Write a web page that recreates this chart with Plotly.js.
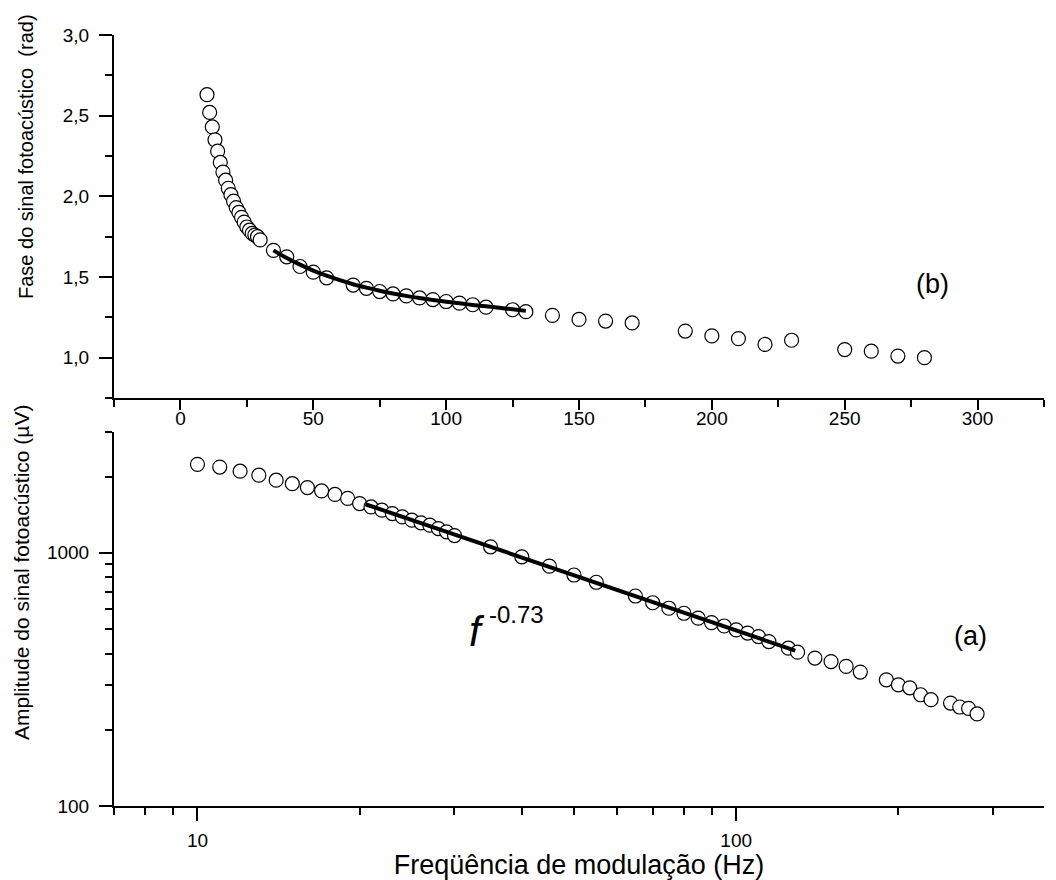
<!DOCTYPE html>
<html>
<head>
<meta charset="utf-8">
<script src="https://cdn.plot.ly/plotly-3.0.1.min.js"></script>
<style>html,body{margin:0;padding:0;background:#fff;}#chart{width:1056px;height:880px;}</style>
</head>
<body>
<div id="chart"></div>
<script>
// Modulation frequency (Hz), shared by both panels
const freq = [10,11,12,13,14,15,16,17,18,19,20,21,22,23,24,25,26,27,28,29,30,
  35,40,45,50,55,65,70,75,80,85,90,95,100,105,110,115,125,130,
  140,150,160,170,190,200,210,220,230,250,260,270,280];
// (b) phase of the photoacoustic signal (rad)
const phase = [2.63,2.52,2.43,2.35,2.28,2.21,2.15,2.10,2.05,2.01,1.97,1.93,1.90,1.87,1.84,1.81,1.79,1.77,1.76,1.75,1.73,
  1.665,1.625,1.565,1.53,1.495,1.45,1.43,1.41,1.395,1.383,1.37,1.36,1.348,1.338,1.328,1.313,1.297,1.285,
  1.262,1.237,1.227,1.215,1.165,1.135,1.118,1.082,1.108,1.05,1.04,1.01,1.00];
// (a) amplitude of the photoacoustic signal (µV)
const amplitude = [2235,2180,2100,2025,1935,1875,1810,1755,1700,1640,1565,1517,1473,1429,1386,1345,1313,1285,1247,1210,1170,
  1056,964,886,817,765,675,635,604,577,552,530,514,496,482,467,446,420,405,
  384,372,356,338,315,301,293,275,263,255,246,243,231];
// fitted curve on the phase panel
const phaseFitX = [35,40,45,50,55,60,65,70,75,80,85,90,95,100,105,110,115,120,125,130];
const phaseFitY = [1.665,1.618,1.577,1.540,1.508,1.480,1.455,1.434,1.415,1.398,1.383,1.370,1.358,1.347,1.337,1.327,1.318,1.309,1.300,1.290];
// power-law fit f^-0.73 on the amplitude panel
const ampFitX = [20.5,128.7];
const ampFitY = [1555,411];

// tick labels
const phaseTickVals = [1.0,1.5,2.0,2.5,3.0];
const phaseTickText = ['1,0','1,5','2,0','2,5','3,0'];
const freqLinTickVals = [0,50,100,150,200,250,300];
const ampTickVals = [100,1000];
const ampTickText = ['100','1000'];
const freqLogTickVals = [10,100];
const freqLogTickText = ['10','100'];

const FONT = 'Liberation Sans, Arial, sans-serif';
const marker = {symbol:'circle', size:14, color:'#ffffff', line:{color:'#000000', width:1.2}};

const traces = [
  {x:freq, y:phase, xaxis:'x', yaxis:'y', type:'scatter', mode:'markers', marker:marker, name:'Fase'},
  {x:phaseFitX, y:phaseFitY, xaxis:'x', yaxis:'y', type:'scatter', mode:'lines', line:{color:'#000', width:4, shape:'spline'}, name:'ajuste'},
  {x:freq, y:amplitude, xaxis:'x2', yaxis:'y2', type:'scatter', mode:'markers', marker:marker, name:'Amplitude'},
  {x:ampFitX, y:ampFitY, xaxis:'x2', yaxis:'y2', type:'scatter', mode:'lines', line:{color:'#000', width:4}, name:'f^-0.73'}
];

const axCommon = {
  showline:true, linecolor:'#000', linewidth:2, mirror:false,
  ticks:'outside', ticklen:13, tickwidth:2, tickcolor:'#000',
  showgrid:false, zeroline:false,
  tickfont:{family:FONT, size:19, color:'#000'}
};
const minorCommon = {ticks:'outside', ticklen:7, tickwidth:2, tickcolor:'#000', showgrid:false};

const layout = {
  width:1056, height:880,
  paper_bgcolor:'#fff', plot_bgcolor:'#fff',
  showlegend:false,
  font:{family:FONT, color:'#000'},
  margin:{l:114, r:12, t:35, b:74},
  xaxis: Object.assign({}, axCommon, {
    domain:[0,1], anchor:'y', range:[-25,325], ticklen:10,
    tickmode:'array', tickvals:freqLinTickVals,
    minor:Object.assign({}, minorCommon, {tickmode:'array', tickvals:[-25,25,75,125,175,225,275,325]}),
    ticklabelstandoff:-8
  }),
  yaxis: Object.assign({}, axCommon, {
    domain:[0.5292,1], anchor:'x', range:[0.75,3.0],
    tickmode:'array', tickvals:phaseTickVals, ticktext:phaseTickText,
    minor:Object.assign({}, minorCommon, {tickmode:'array', tickvals:[0.75,1.25,1.75,2.25,2.75]}),
    ticklabelstandoff:6
  }),
  xaxis2: Object.assign({}, axCommon, {
    domain:[0,1], anchor:'y2', type:'log', range:[Math.log10(7), 2.5714],
    tickmode:'array', tickvals:freqLogTickVals, ticktext:freqLogTickText,
    minor:Object.assign({}, minorCommon, {tickmode:'array', tickvals:[7,8,9,20,30,40,50,60,70,80,90,200,300]}),
    ticklabelstandoff:3,
    title:{text:'Freqüência de modulação (Hz)', font:{family:FONT, size:27, color:'#000'}, standoff:2}
  }),
  yaxis2: Object.assign({}, axCommon, {
    domain:[0,0.4851], anchor:'x2', type:'log', range:[2, Math.log10(3000)],
    tickmode:'array', tickvals:ampTickVals, ticktext:ampTickText,
    minor:Object.assign({}, minorCommon, {tickmode:'array', tickvals:[200,300,400,500,600,700,800,900,2000,3000]}),
    ticklabelstandoff:6
  }),
  annotations:[
    {text:'Fase do sinal fotoacústico  (rad)', xref:'paper', yref:'paper', x:-0.0946, y:0.8418,
     xanchor:'center', yanchor:'middle', textangle:-90, showarrow:false, font:{family:FONT, size:20, color:'#000'}},
    {text:'Amplitude do sinal fotoacústico (µV)', xref:'paper', yref:'paper', x:-0.1, y:0.3022,
     xanchor:'center', yanchor:'middle', textangle:-90, showarrow:false, font:{family:FONT, size:21, color:'#000'}},
    {text:'(b)', xref:'paper', yref:'paper', x:0.8806, y:0.6770, xanchor:'center', yanchor:'middle',
     showarrow:false, font:{family:FONT, size:27, color:'#000'}},
    {text:'(a)', xref:'paper', yref:'paper', x:0.9215, y:0.2205, xanchor:'center', yanchor:'middle',
     showarrow:false, font:{family:FONT, size:27, color:'#000'}},
    {text:'<i>f</i>', xref:'paper', yref:'paper', x:0.3898, y:0.2257, xanchor:'center', yanchor:'middle',
     showarrow:false, font:{family:FONT, size:42, color:'#000'}},
    {text:'-0.73', xref:'paper', yref:'paper', x:0.401, y:0.249, xanchor:'left', yanchor:'middle',
     showarrow:false, font:{family:FONT, size:24, color:'#000'}}
  ]
};

Plotly.newPlot('chart', traces, layout, {displayModeBar:false, staticPlot:true});
</script>
</body>
</html>
